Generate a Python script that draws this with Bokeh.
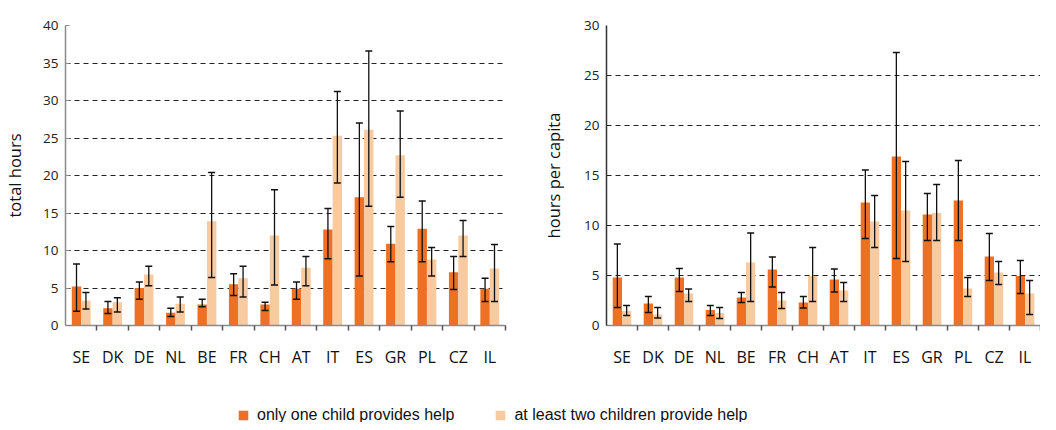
import numpy as np
from bokeh.plotting import figure
from bokeh.models import (ColumnDataSource, FixedTicker, Whisker, TeeHead,
                          Legend, LegendItem, Range1d)
from bokeh.layouts import column, row
from bokeh.embed import file_html
from bokeh.resources import INLINE

countries = ["SE", "DK", "DE", "NL", "BE", "FR", "CH", "AT", "IT", "ES", "GR", "PL", "CZ", "IL"]

# total hours
total_one = [5.2, 2.3, 5.0, 1.7, 2.8, 5.5, 2.8, 4.9, 12.8, 17.1, 10.9, 12.9, 7.1, 4.9]
total_one_lo = [1.9, 1.6, 3.5, 1.2, 2.5, 4.0, 2.0, 3.5, 8.9, 6.6, 8.5, 8.5, 4.8, 3.2]
total_one_hi = [8.2, 3.2, 5.8, 2.3, 3.5, 6.9, 3.1, 5.8, 15.6, 27.0, 13.2, 16.6, 9.2, 6.3]
total_two = [3.3, 3.1, 6.8, 2.9, 13.9, 6.3, 12.0, 7.7, 25.3, 26.1, 22.7, 8.8, 12.0, 7.6]
total_two_lo = [2.2, 1.8, 5.3, 1.8, 6.4, 3.8, 5.4, 5.3, 19.0, 15.9, 17.1, 6.6, 9.2, 3.2]
total_two_hi = [4.4, 3.7, 7.9, 3.8, 20.4, 7.9, 18.1, 9.2, 31.2, 36.6, 28.6, 10.4, 14.0, 10.8]

# hours per capita
cap_one = [4.8, 2.2, 4.8, 1.55, 2.8, 5.6, 2.3, 4.6, 12.3, 16.9, 11.1, 12.5, 6.9, 4.95]
cap_one_lo = [1.8, 1.3, 3.4, 1.0, 2.3, 3.85, 1.75, 3.35, 8.7, 6.7, 8.5, 8.5, 4.5, 3.2]
cap_one_hi = [8.15, 2.9, 5.7, 2.0, 3.3, 6.85, 2.9, 5.65, 15.55, 27.3, 13.2, 16.5, 9.2, 6.5]
cap_two = [1.45, 1.1, 3.2, 1.25, 6.3, 2.5, 4.95, 3.5, 10.4, 11.5, 11.25, 3.7, 5.3, 3.2]
cap_two_lo = [1.0, 0.75, 2.4, 0.7, 2.4, 1.7, 2.4, 2.4, 7.8, 6.4, 8.5, 2.9, 4.1, 1.1]
cap_two_hi = [2.0, 1.8, 3.65, 1.8, 9.25, 3.3, 7.8, 4.3, 13.0, 16.4, 14.1, 4.8, 6.4, 4.5]

series_labels = ["only one child provides help", "at least two children provide help"]
DARK = "#ED7024"
LIGHT = "#F8CA9F"
FONT = "Open Sans"

n = len(countries)
centers = np.arange(n)


def panel(one, one_lo, one_hi, two, two_lo, two_hi, ymax, ylabel,
          width, border_left, border_right, border_top, axis_color, tick_in, label_standoff):
    p = figure(width=width, height=376, toolbar_location=None, output_backend="svg",
               x_range=Range1d(-0.5, n - 0.5), y_range=Range1d(0, ymax),
               min_border_left=border_left, min_border_right=border_right,
               min_border_top=border_top, min_border_bottom=51)
    p.outline_line_color = None
    src = ColumnDataSource(dict(
        x1=centers - 0.15, x2=centers + 0.15,
        one=one, one_lo=one_lo, one_hi=one_hi,
        two=two, two_lo=two_lo, two_hi=two_hi))
    p.vbar(x="x1", top="one", width=0.3, source=src, fill_color=DARK, line_color=None)
    p.vbar(x="x2", top="two", width=0.3, source=src, fill_color=LIGHT, line_color=None)
    for xcol, lo, hi in (("x1", "one_lo", "one_hi"), ("x2", "two_lo", "two_hi")):
        w = Whisker(source=src, base=xcol, lower=lo, upper=hi, dimension="height",
                    line_color="#111111", line_width=1.3, level="overlay",
                    upper_head=TeeHead(size=7, line_color="#111111", line_width=1.3),
                    lower_head=TeeHead(size=7, line_color="#111111", line_width=1.3))
        p.add_layout(w)

    yt = list(range(0, ymax + 1, 5))
    p.yaxis.ticker = FixedTicker(ticks=yt)
    p.ygrid.ticker = FixedTicker(ticks=yt[1:])
    p.ygrid.grid_line_color = "#222222"
    p.ygrid.grid_line_dash = "5 4"
    p.ygrid.grid_line_width = 1.1
    p.xgrid.grid_line_color = None

    p.xaxis.ticker = FixedTicker(ticks=list(centers), minor_ticks=list(centers + 0.5))
    p.xaxis.major_label_overrides = {int(i): c for i, c in zip(centers, countries)}
    p.xaxis.major_tick_out = 0
    p.xaxis.major_tick_in = 0
    p.xaxis.minor_tick_out = 5
    p.xaxis.minor_tick_in = 0
    p.xaxis.minor_tick_line_color = "#555555"
    p.xaxis.minor_tick_line_width = 1.5
    p.xaxis.axis_line_color = "#8a8a8a"
    p.xaxis.axis_line_width = 1.5
    p.xaxis.major_label_standoff = 15
    p.xaxis.major_label_text_font = FONT
    p.xaxis.major_label_text_font_size = "16px"
    p.xaxis.major_label_text_color = "#111111"

    p.yaxis.axis_line_color = axis_color
    p.yaxis.axis_line_width = 1.5
    p.yaxis.major_tick_out = 0
    p.yaxis.major_tick_in = tick_in
    p.yaxis.major_tick_line_color = axis_color
    p.yaxis.minor_tick_line_color = None
    p.yaxis.major_label_standoff = 7
    p.yaxis.major_label_text_font = FONT
    p.yaxis.major_label_text_font_size = "13.5px"
    p.yaxis.major_label_text_color = "#222222"
    p.yaxis.axis_label = ylabel
    p.yaxis.axis_label_text_font = FONT
    p.yaxis.axis_label_text_font_style = "normal"
    p.yaxis.axis_label_text_font_size = "16.5px"
    p.yaxis.axis_label_text_color = "#111111"
    p.yaxis.axis_label_standoff = label_standoff
    return p


p1 = panel(total_one, total_one_lo, total_one_hi, total_two, total_two_lo, total_two_hi,
           40, "total hours", 522, 57, 17, 25, "#8a8a8a", 4, 14)
p2 = panel(cap_one, cap_one_lo, cap_one_hi, cap_two, cap_two_lo, cap_two_hi,
           30, "hours per capita", 518, 84, 0, 16, "#333333", 0, 16)

# legend strip: swatch renderers carry a single zero-height bar so the legend can draw them
leg = figure(width=1040, height=46, toolbar_location=None, output_backend="svg",
             min_border=0, outline_line_color=None,
             x_range=Range1d(0, 1), y_range=Range1d(0, 1))
leg.axis.visible = False
leg.grid.visible = False
r1 = leg.vbar(x=[-5], top=[0], width=0.3, fill_color=DARK, line_color=None)
r2 = leg.vbar(x=[-5], top=[0], width=0.3, fill_color=LIGHT, line_color=None)
legend = Legend(items=[LegendItem(label=series_labels[0], renderers=[r1]),
                       LegendItem(label=series_labels[1], renderers=[r2])],
                orientation="horizontal", location=(237, -2),
                glyph_width=12, glyph_height=12, label_standoff=8, spacing=40,
                label_text_font="Liberation Sans", label_text_font_size="16px",
                label_text_color="#111111",
                border_line_color=None, background_fill_alpha=0, padding=0, margin=0)
leg.add_layout(legend)

layout = column(row(p1, p2), leg)
open("out.html", "w").write(file_html(layout, INLINE))
